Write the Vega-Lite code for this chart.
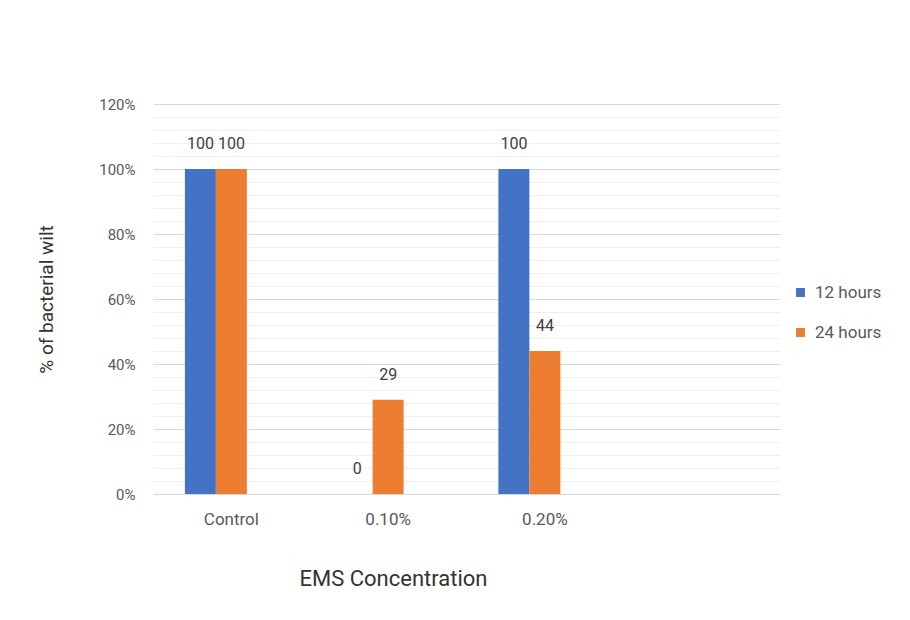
{
  "$schema": "https://vega.github.io/schema/vega-lite/v6.json",
  "width": 627,
  "height": 390,
  "autosize": "none",
  "padding": {"left": 153, "top": 104, "right": 130, "bottom": 126},
  "background": "white",
  "config": {
    "view": {"stroke": null},
    "font": "Roboto",
    "text": {"font": "Roboto"}
  },
  "data": {
    "values": [
      {"concentration": "Control", "series": "12 hours", "value": 100},
      {"concentration": "Control", "series": "24 hours", "value": 100},
      {"concentration": "0.10%", "series": "12 hours", "value": 0},
      {"concentration": "0.10%", "series": "24 hours", "value": 29},
      {"concentration": "0.20%", "series": "12 hours", "value": 100},
      {"concentration": "0.20%", "series": "24 hours", "value": 44}
    ]
  },
  "encoding": {
    "x": {
      "field": "concentration",
      "type": "nominal",
      "sort": null,
      "scale": {"domain": ["Control", "0.10%", "0.20%", " "], "paddingInner": 0.407, "paddingOuter": 0.2035},
      "axis": {
        "title": "EMS Concentration",
        "labelAngle": 0,
        "labelFontSize": 17,
        "labelColor": "#595959",
        "labelPadding": 17,
        "ticks": false,
        "tickSize": 0,
        "domain": false,
        "titleFontSize": 22,
        "titleFontWeight": "normal",
        "titleColor": "#333333",
        "titleX": 240,
        "titleY": 84,
        "titleBaseline": "middle"
      }
    },
    "xOffset": {
      "field": "series",
      "type": "nominal",
      "scale": {"domain": ["12 hours", "24 hours", "spare"], "paddingInner": 0, "paddingOuter": 0}
    },
    "y": {
      "field": "value",
      "type": "quantitative",
      "scale": {"domain": [0, 120], "nice": false},
      "axis": {
        "title": "% of bacterial wilt",
        "values": [0, 4, 8, 12, 16, 20, 24, 28, 32, 36, 40, 44, 48, 52, 56, 60, 64, 68, 72, 76, 80, 84, 88, 92, 96, 100, 104, 108, 112, 116, 120],
        "labelExpr": "datum.value % 20 === 0 ? datum.value + '%' : ''",
        "labelFontSize": 15,
        "labelColor": "#595959",
        "labelPadding": 18,
        "ticks": false,
        "tickSize": 0,
        "domain": false,
        "gridColor": {"condition": {"test": "datum.value % 20 === 0", "value": "#d9d9d9"}, "value": "#efefef"},
        "gridWidth": 1,
        "titleFontSize": 19,
        "titleFontWeight": "normal",
        "titleColor": "#333333",
        "titlePadding": 42
      }
    }
  },
  "layer": [
    {
      "mark": {"type": "bar"},
      "encoding": {
        "color": {
          "field": "series",
          "type": "nominal",
          "scale": {"domain": ["12 hours", "24 hours"], "range": ["#4472C4", "#ED7D31"]},
          "legend": {
            "title": null,
            "orient": "none",
            "legendX": 639,
            "legendY": 180,
            "padding": 0,
            "symbolType": "square",
            "symbolSize": 80,
            "symbolStrokeWidth": 0,
            "labelFontSize": 17,
            "labelColor": "#595959",
            "labelOffset": 6,
            "rowPadding": 22
          }
        }
      }
    },
    {
      "mark": {"type": "text", "baseline": "middle", "dy": -25, "fontSize": 16, "color": "#404040"},
      "encoding": {
        "text": {"field": "value", "type": "quantitative"}
      }
    }
  ]
}
